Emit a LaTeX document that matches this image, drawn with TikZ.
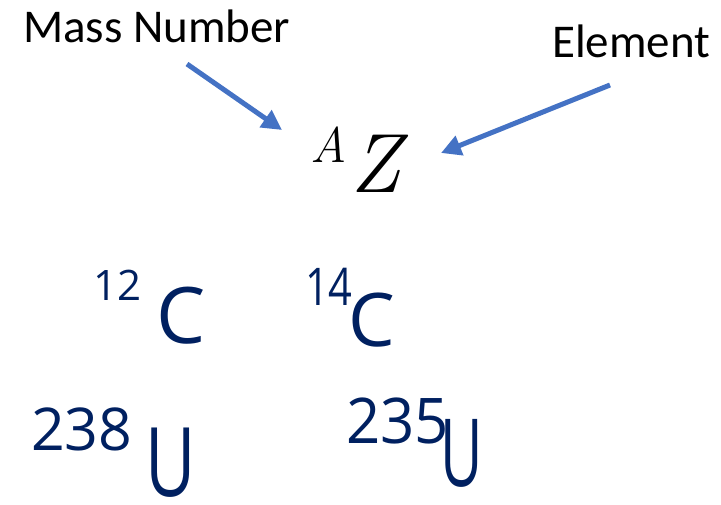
\documentclass[tikz,border=0pt]{standalone}
\usepackage{fontspec}
\usepackage{graphicx}
\usepackage{tikz}
\usetikzlibrary{arrows.meta,positioning}
\newfontfamily\labelfont{Carlito}
\newfontfamily\handfont{Open Sans}
\definecolor{officeblue}{HTML}{4472C4}
\definecolor{inknavy}{HTML}{002060}

\begin{document}
\begin{tikzpicture}[x=1pt,y=-1pt,
  lbl/.style={font=\labelfont\fontsize{47}{47}\selectfont,inner sep=0pt,anchor=base west},
  sym/.style={inner sep=0pt,anchor=base west},
  hand/.style={text=inknavy,inner sep=0pt,anchor=base west},
  pointer/.style={officeblue,line width=5pt,-{Triangle[length=20pt,width=20pt]}}]
\useasboundingbox (0,0) rectangle (721,504);
% labels and the symbol
\node[lbl] (mass) at (23,42) {Mass Number};
\node[lbl] (elem) at (552,57) {Element};
\node[sym] (symA) at (310,162) {\fontsize{50}{50}\selectfont\itshape A};
\node[sym] (symZ) at (350,192) {\fontsize{84}{84}\selectfont\itshape Z};
\coordinate (massTail) at (187,64);
\coordinate (massTip) at (282,130);
\coordinate (elemTail) at (610,85);
\coordinate (elemTip) at (441,153);
\draw[pointer] (massTail) -- (massTip);
\draw[pointer] (elemTail) -- (elemTip);
% handwritten examples
\node[hand] (n12) at (93,300) {\handfont\fontsize{42}{42}\selectfont 12};
\node[hand] (c12) at (156,343) {\handfont\fontsize{78}{78}\selectfont C};
\node[hand] (n14) at (305,305) {\scalebox{0.8}[1]{\handfont\fontsize{52}{52}\selectfont 14}};
\node[hand] (c14) at (348,346) {\handfont\fontsize{74}{74}\selectfont C};
\node[hand] (n238) at (31,450) {\handfont\fontsize{59}{59}\selectfont 238};
\node[hand] (u238) at (145,496) {\scalebox{0.72}[1]{\handfont\fontsize{96}{96}\selectfont U}};
\node[hand] (n235) at (346,443) {\scalebox{0.95}[1]{\handfont\fontsize{63}{63}\selectfont 235}};
\node[hand] (u235) at (440,486) {\scalebox{0.62}[1]{\handfont\fontsize{94}{94}\selectfont U}};
\end{tikzpicture}
\end{document}
